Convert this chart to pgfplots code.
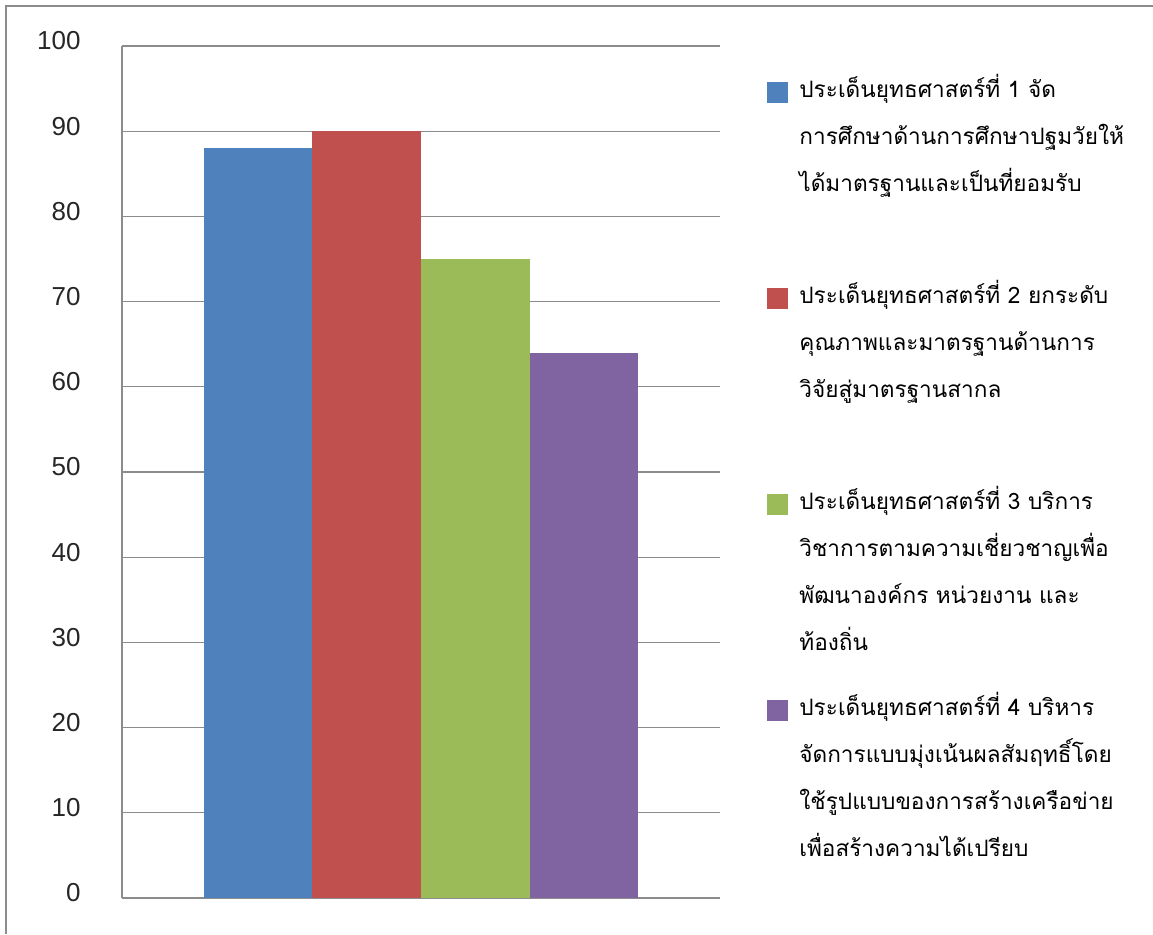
\documentclass[border=0pt]{standalone}
\usepackage{fontspec}
\setmainfont{Liberation Sans}
\newfontfamily\thaifont[Script=Thai]{Loma}
\usepackage{pgfplots}
\pgfplotsset{compat=1.18}
\definecolor{cblue}{HTML}{4F81BD}
\definecolor{cred}{HTML}{C0504D}
\definecolor{cgreen}{HTML}{9BBB59}
\definecolor{cpurple}{HTML}{8064A2}
\definecolor{gridgray}{HTML}{8C8C8C}
\newcommand{\nl}{\par}
\newcommand{\leg}[1]{\raisebox{0pt}[10pt][93pt]{\parbox[t]{180pt}{\thaifont\fontsize{11.3}{23.5}\selectfont #1}}}
\begin{document}
\begin{tikzpicture}[x=1pt,y=1pt]
\useasboundingbox (0,0) rectangle (576.5,467);
\draw[color=gridgray, line width=1.2pt] (3,0) -- (3,464) -- (576.5,464);
\begin{axis}[
  at={(61pt,18pt)}, anchor=south west,
  scale only axis, width=299pt, height=426pt,
  ymin=0, ymax=100, ytick={0,10,...,100},
  xmin=-2.75, xmax=2.75, xtick=\empty,
  ybar, bar width=1, bar shift=0pt,
  axis lines*=left,
  ymajorgrids, grid style={color=gridgray, line width=0.6pt},
  axis line style={color=gridgray, line width=0.8pt},
  major tick length=0pt,
  /pgf/number format/assume math mode=true,
  tick label style={font=\fontsize{13}{13}\selectfont, text=black!85},
  yticklabel style={inner sep=0pt, xshift=-20.5pt, yshift=2.5pt},
  legend style={draw=none, fill=none, inner sep=0pt, at={(axis description cs:1.0786,0.9636)}, anchor=north west,
    cells={anchor=base west}, nodes={inner sep=0pt, text depth=}, column sep=5.5pt, row sep=0pt},
  legend image code/.code={\fill[#1] (0pt,-3pt) rectangle (10.5pt,7.5pt);},
]
\addplot[fill=cblue, draw=none] coordinates {(-1.5,88)};
\addlegendentry{\leg{ประเด็นยุทธศาสตร์ที่ 1 จัด\nl การศึกษาด้านการศึกษาปฐมวัยให้\nl ได้มาตรฐานและเป็นที่ยอมรับ}}
\addplot[fill=cred, draw=none] coordinates {(-0.5,90)};
\addlegendentry{\leg{ประเด็นยุทธศาสตร์ที่ 2 ยกระดับ\nl คุณภาพและมาตรฐานด้านการ\nl วิจัยสู่มาตรฐานสากล}}
\addplot[fill=cgreen, draw=none] coordinates {(0.5,75)};
\addlegendentry{\leg{ประเด็นยุทธศาสตร์ที่ 3 บริการ\nl วิชาการตามความเชี่ยวชาญเพื่อ\nl พัฒนาองค์กร หน่วยงาน และ\nl ท้องถิ่น}}
\addplot[fill=cpurple, draw=none] coordinates {(1.5,64)};
\addlegendentry{\leg{ประเด็นยุทธศาสตร์ที่ 4 บริหาร\nl จัดการแบบมุ่งเน้นผลสัมฤทธิ์โดย\nl ใช้รูปแบบของการสร้างเครือข่าย\nl เพื่อสร้างความได้เปรียบ}}
\end{axis}
\end{tikzpicture}
\end{document}
